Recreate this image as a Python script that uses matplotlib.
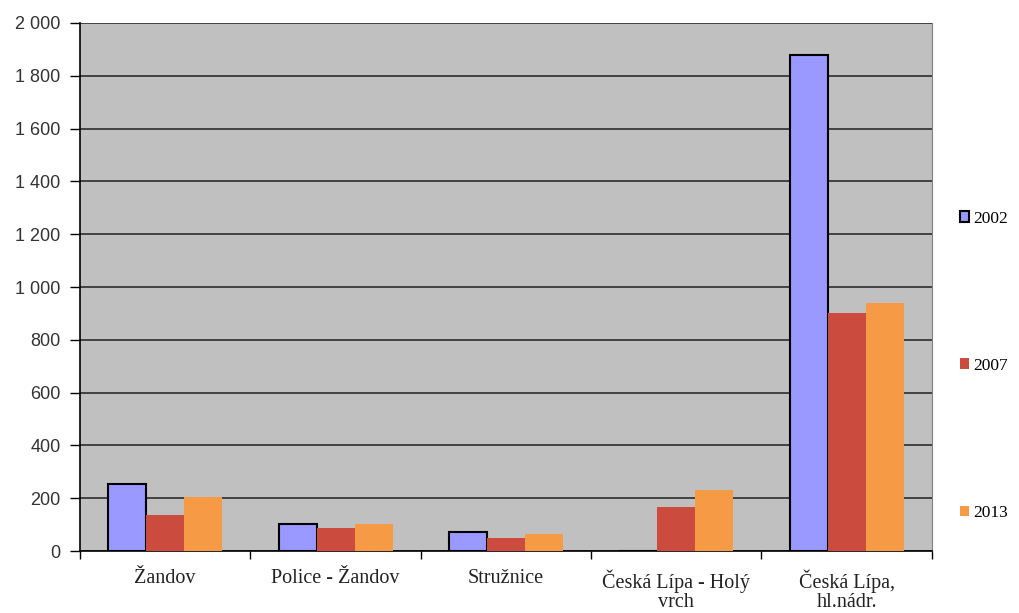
import numpy as np
import matplotlib.pyplot as plt
from matplotlib.ticker import FuncFormatter, MultipleLocator

# data
stations = ['Žandov', 'Police - Žandov', 'Stružnice', 'Česká Lípa - Holý\nvrch', 'Česká Lípa,\nhl.nádr.']
years = ['2002', '2007', '2013']
v2002 = [254, 102, 72, 0, 1879]
v2007 = [136, 87, 49, 167, 902]
v2013 = [205, 102, 64, 231, 939]

colors = ['#9999FF', '#CC4B3F', '#F79A46']
edges = ['black', 'none', 'none']

fig = plt.figure(figsize=(10.19, 6.13), dpi=100)
ax = fig.add_axes([0.0785, 0.101, 0.836, 0.8615])
ax.set_facecolor('#C0C0C0')

x = np.arange(len(stations))
w = 0.223
handles = []
for i, (vals, yr) in enumerate(zip([v2002, v2007, v2013], years)):
	h = ax.bar(x + (i - 1) * w, vals, w, color=colors[i], edgecolor=edges[i],
			   linewidth=1.5 if i == 0 else 0, label=yr, zorder=3)
	handles.append(h)

ax.set_xlim(-0.5, len(stations) - 0.5)
ax.set_ylim(0, 2000)
ax.yaxis.set_major_locator(MultipleLocator(200))
ax.yaxis.set_major_formatter(FuncFormatter(lambda v, p: f'{int(v):,}'.replace(',', ' ')))
ax.grid(axis='y', color='#202020', linewidth=1.1, zorder=1)

ax.set_xticks(x)
ax.set_xticklabels(stations, family='Liberation Serif', fontsize=14.5, color='#222222',
				   linespacing=1.05)
ax.set_xticks(np.arange(len(stations) + 1) - 0.5, minor=True)
ax.tick_params(axis='x', which='major', length=0, pad=13)
ax.tick_params(axis='x', which='minor', length=6, width=1, direction='out')
ax.tick_params(axis='y', length=7, width=1, labelsize=13, pad=7)
for lab in ax.get_yticklabels():
	lab.set_family('Liberation Sans')
	lab.set_color('#333333')

ax.spines['top'].set_visible(False)
ax.spines['right'].set_color('#808080')
ax.spines['left'].set_linewidth(1.2)
ax.spines['bottom'].set_linewidth(1.2)

leg = fig.legend(handles=handles, loc='upper left', bbox_to_anchor=(0.93, 0.676),
				 frameon=False, labelspacing=7.55, handlelength=0.55, handleheight=0.55,
				 handletextpad=0.25, borderaxespad=0.3,
				 prop={'family': 'Liberation Serif', 'size': 12.5})

fig.savefig('out.png', dpi=100)
